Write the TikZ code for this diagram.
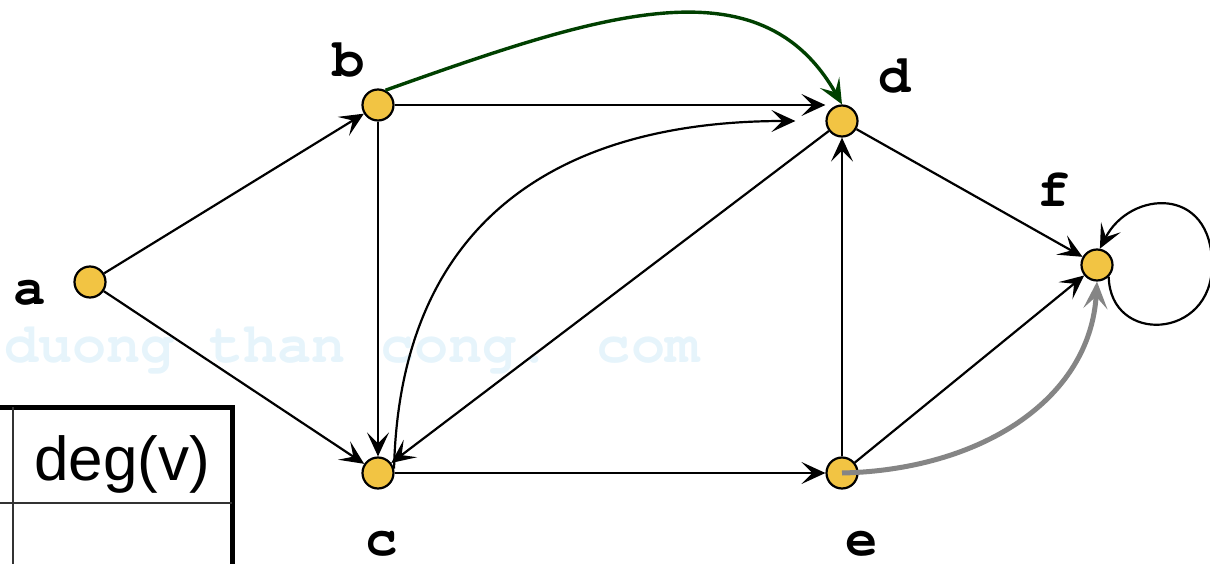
\documentclass[tikz,border=0pt]{standalone}
\usepackage{fontspec}
\setmainfont{Liberation Sans}
\newfontfamily\vlabelfont{TeX Gyre Cursor}
\usetikzlibrary{arrows.meta}
\definecolor{vertexfill}{RGB}{242,196,67}
\definecolor{darkgreen}{RGB}{0,64,0}
\definecolor{markgray}{RGB}{133,133,133}
\definecolor{watermark}{RGB}{230,244,251}

\begin{document}
\begin{tikzpicture}[x=1pt,y=-1pt]

% --- STYLES ---
\tikzset{
  vertex/.style={circle, draw=black, fill=vertexfill, line width=2.2pt,
                 minimum size=31pt, inner sep=0pt},
  vlabel/.style={font=\vlabelfont\bfseries\fontsize{54}{54}\selectfont,
                 anchor=base, inner sep=0pt},
  edge/.style={black, line width=2.2pt,
               -{Stealth[length=24pt, width=22pt, inset=11pt]}},
  greenedge/.style={darkgreen, line width=3.4pt,
               -{Stealth[length=25pt, width=22pt, inset=11pt]}},
  grayedge/.style={markgray, line width=5pt,
               -{Stealth[length=27pt, width=24pt, inset=12pt]}},
  thickrule/.style={black, line width=5pt},
  thinrule/.style={black!80, line width=1.8pt},
}

\useasboundingbox (0,0) rectangle (1210,564);
\clip (0,0) rectangle (1210,564);

% ================= WATERMARK =================
\node[font=\vlabelfont\bfseries\fontsize{57}{57}\selectfont, text=watermark,
      anchor=base west, inner sep=0pt] (wm) at (4,362) {duong than cong. com};

% ================= DEGREE TABLE =================
\draw[thickrule] (-20,407) -- (232,407) -- (232,600);
\draw[thinrule] (13,407) -- (13,600);
\draw[thinrule] (-20,503) -- (232,503);
\node[font=\fontsize{62}{62}\selectfont, anchor=base, inner sep=0pt]
      (deghead) at (122,480) {deg(v)};

% ================= VERTICES =================
\node[vertex] (a) at (90,282) {};
\node[vertex] (b) at (378,105) {};
\node[vertex] (c) at (378,473) {};
\node[vertex] (d) at (842,121) {};
\node[vertex] (e) at (842,473) {};
\node[vertex] (f) at (1097,265) {};

\node[vlabel] (la) at (30,304) {a};
\node[vlabel] (lb) at (349,77) {b};
\node[vlabel] (lc) at (382,555) {c};
\node[vlabel] (ld) at (895,93) {d};
\node[vlabel] (le) at (862,555) {e};
\node[vlabel] (lf) at (1054,207) {f};

% ================= EDGES =================
\draw[edge] (a) -- (b);
\draw[edge] (a) -- (c);
\draw[edge] (b.east) -- (d.west |- b.east);
\draw[edge] (b) -- (c);
\draw[edge] (d) -- (c);
\draw[edge] (c) -- (e);
\draw[edge] (e) -- (d);
\draw[edge] (d) -- (f);
\draw[edge] (e) -- (f);

% --- curved ones ---
\draw[edge, shorten >=30pt] (c.15) .. controls (400,220) and (560,121) .. (d.west);
\draw[greenedge] (b.63) .. controls (600,14) and (760,-40) .. (d.north);
\draw[edge] (f.-45) .. controls (1110,345) and (1212,340) .. (1212,265)
                    .. controls (1212,185) and (1130,190) .. (f.80);
\draw[grayedge] (e.center) .. controls (980,470) and (1090,400) .. (f.south);

\end{tikzpicture}
\end{document}
